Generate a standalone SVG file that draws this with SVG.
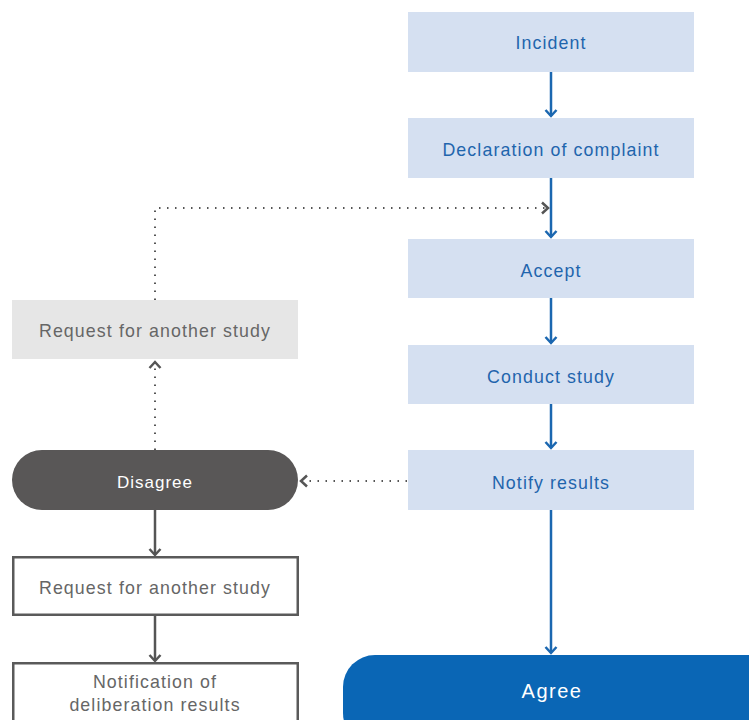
<svg xmlns="http://www.w3.org/2000/svg" width="749" height="720" viewBox="0 0 749 720">
<style>
.bbox{fill:#d5e0f1}
.btxt{font-family:"Liberation Sans",Arial,sans-serif;font-size:17.8px;letter-spacing:1.1px;fill:#1f65ad;text-anchor:middle}
.gtxt{font-family:"Liberation Sans",Arial,sans-serif;font-size:17.8px;letter-spacing:1.1px;fill:#666;text-anchor:middle}
.wtxt{font-family:"Liberation Sans",Arial,sans-serif;font-size:17px;letter-spacing:1px;fill:#fff;text-anchor:middle}
.blue{stroke:#1b67b0;stroke-width:2.5;fill:none}
.dark{stroke:#555;stroke-width:2.5;fill:none}
.dot{stroke:#555;stroke-width:2;fill:none;stroke-dasharray:1.5 6.5}
</style>
<defs>
<marker id="ab" markerUnits="userSpaceOnUse" markerWidth="14" markerHeight="14" viewBox="-8 -7 10 14" refX="0" refY="0" orient="auto">
<path d="M-6,-5.5 L0,0 L-6,5.5" fill="none" stroke="#1b67b0" stroke-width="2.5"/>
</marker>
<marker id="ad" markerUnits="userSpaceOnUse" markerWidth="14" markerHeight="14" viewBox="-8 -7 10 14" refX="0" refY="0" orient="auto">
<path d="M-6,-5.5 L0,0 L-6,5.5" fill="none" stroke="#555" stroke-width="2.5"/>
</marker>
</defs>
<rect width="749" height="720" fill="#fff"/>
<g id="connectors">
<line class="blue" x1="551" y1="72" x2="551" y2="116" marker-end="url(#ab)"/>
<line class="blue" x1="551" y1="178" x2="551" y2="237" marker-end="url(#ab)"/>
<line class="blue" x1="551" y1="298" x2="551" y2="343" marker-end="url(#ab)"/>
<line class="blue" x1="551" y1="404" x2="551" y2="448" marker-end="url(#ab)"/>
<line class="blue" x1="551" y1="510" x2="551" y2="653" marker-end="url(#ab)"/>
<polyline class="dot" points="155,300 155,208 548,208" marker-end="url(#ad)"/>
<line class="dot" x1="155" y1="450" x2="155" y2="362" marker-end="url(#ad)"/>
<line class="dot" x1="407" y1="481" x2="301" y2="481" marker-end="url(#ad)"/>
<line class="dark" x1="155" y1="510" x2="155" y2="555" marker-end="url(#ad)"/>
<line class="dark" x1="155" y1="616" x2="155" y2="661" marker-end="url(#ad)"/>
</g>
<g id="incident"><rect class="bbox" x="408" y="12" width="286" height="60"/><text class="btxt" x="551" y="49">Incident</text></g>
<g id="declaration"><rect class="bbox" x="408" y="118" width="286" height="60"/><text class="btxt" x="551" y="156">Declaration of complaint</text></g>
<g id="accept"><rect class="bbox" x="408" y="239" width="286" height="59"/><text class="btxt" x="551" y="277">Accept</text></g>
<g id="conduct"><rect class="bbox" x="408" y="345" width="286" height="59"/><text class="btxt" x="551" y="383">Conduct study</text></g>
<g id="notify"><rect class="bbox" x="408" y="450" width="286" height="60"/><text class="btxt" x="551" y="489">Notify results</text></g>
<g id="agree"><rect x="343" y="655" width="440" height="90" rx="32" fill="#0a66b5"/><text class="wtxt" x="552" y="698" style="font-size:20px;letter-spacing:1.5px">Agree</text></g>
<g id="request-gray"><rect x="12" y="300" width="286" height="59" fill="#e6e6e6"/><text class="gtxt" x="155" y="337">Request for another study</text></g>
<g id="disagree"><rect x="12" y="450" width="286" height="60" rx="30" fill="#595757"/><text class="wtxt" x="155" y="488">Disagree</text></g>
<g id="request"><rect x="13.25" y="557.25" width="284.5" height="57.5" fill="#fff" stroke="#5a5a5a" stroke-width="2.5"/><text class="gtxt" x="155" y="594">Request for another study</text></g>
<g id="notification"><rect x="13.25" y="663.25" width="284.5" height="70" fill="#fff" stroke="#5a5a5a" stroke-width="2.5"/><text class="gtxt" x="155" y="688">Notification of</text><text class="gtxt" x="155" y="711">deliberation results</text></g>
</svg>
